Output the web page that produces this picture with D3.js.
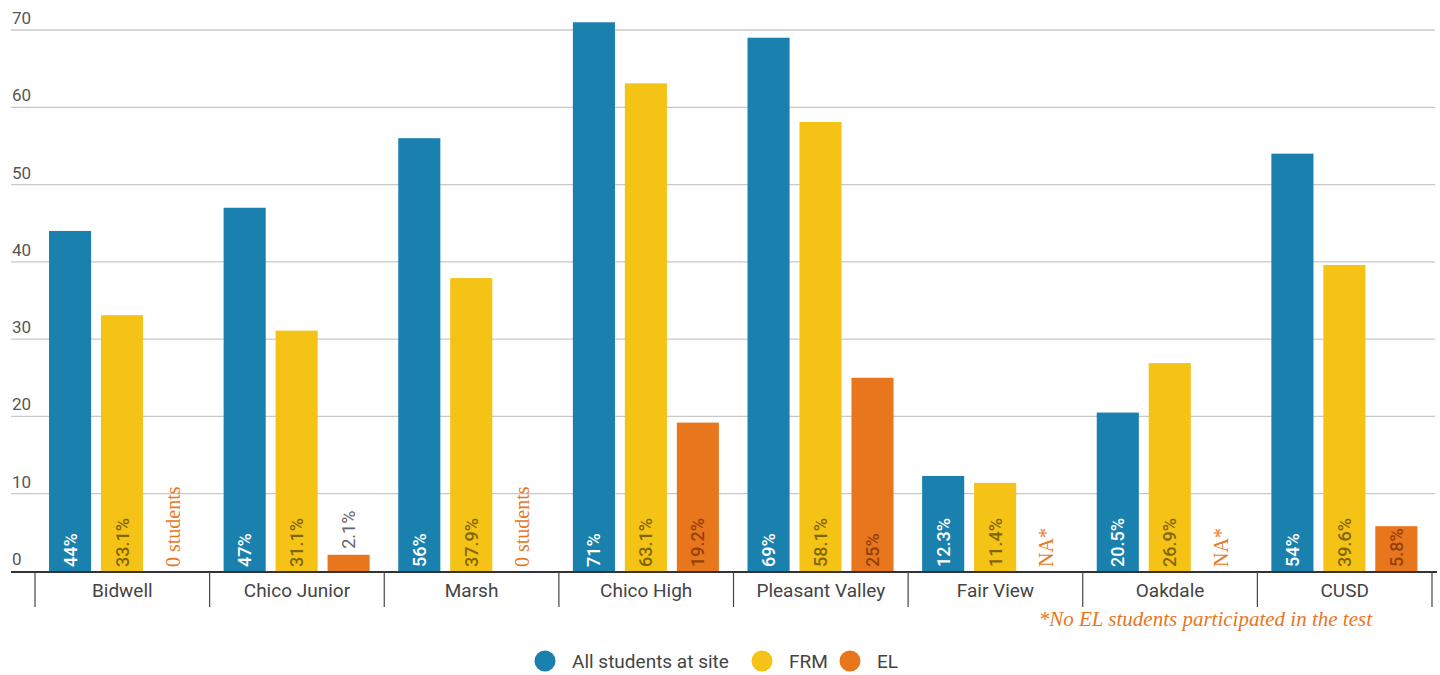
<!DOCTYPE html>
<html><head><meta charset="utf-8">
<script src="https://cdn.jsdelivr.net/npm/d3@7"></script>
<style>
body{margin:0;background:#fff;}
svg{display:block;font-family:Roboto, "Noto Sans", sans-serif;}
</style></head>
<body><svg id="c" width="1440" height="675"></svg>
<script>
const categories = ["Bidwell","Chico Junior","Marsh","Chico High","Pleasant Valley","Fair View","Oakdale","CUSD"];
const seriesNames = ["All students at site","FRM","EL"];
const allStudents = [44,47,56,71,69,12.3,20.5,54];
const frm = [33.1,31.1,37.9,63.1,58.1,11.4,26.9,39.6];
const el = [0,2.1,0,19.2,25,null,null,5.8];
const allLabels = ["44%","47%","56%","71%","69%","12.3%","20.5%","54%"];
const frmLabels = ["33.1%","31.1%","37.9%","63.1%","58.1%","11.4%","26.9%","39.6%"];
const elLabels = ["0 students","2.1%","0 students","19.2%","25%","NA*","NA*","5.8%"];
const yTicks = [0,10,20,30,40,50,60,70];
const footnote = "*No EL students participated in the test";
const colors = ["#1A80AE","#F5C315","#E8761C"];

const svg = d3.select("#c");
const y = d3.scaleLinear().domain([0,70]).range([571,30]);
const x0 = d3.scaleBand().domain(categories).range([35,1432]).paddingInner(0).paddingOuter(0);
const x1 = d3.scaleBand().domain(seriesNames).range([14, x0.bandwidth()-14.6]).paddingInner(0.19).paddingOuter(0);

// gridlines + y labels
const g = svg.append("g");
yTicks.forEach(t=>{
  if(t>0) g.append("line").attr("x1",11).attr("x2",1435).attr("y1",y(t)).attr("y2",y(t)).attr("stroke","#c8c8c8").attr("stroke-width",1.3);
  g.append("text").attr("x",12).attr("y",y(t)-6).attr("font-size",17).attr("fill","#555").text(t);
});

const seriesData = [allStudents, frm, el];
const labelData = [allLabels, frmLabels, elLabels];
const bars = svg.append("g");
categories.forEach((c,i)=>{
  seriesNames.forEach((s,k)=>{
    const v = seriesData[k][i];
    const bx = x0(c)+x1(s);
    const cx = bx + x1.bandwidth()/2;
    if(v!=null && v>0){
      bars.append("rect").attr("x",bx).attr("y",y(v)).attr("width",x1.bandwidth()).attr("height",y(0)-y(v)).attr("fill",colors[k]);
    }
    const lab = labelData[k][i];
    let fill, font="Roboto, sans-serif", size=18, weight=500, by=567, dx=6.5;
    if(k===0){fill="#fff";}
    else if(k===1){fill="rgba(90,70,0,0.75)";}
    else {
      if(v==null || v===0){fill="#E8761C"; font="'Liberation Serif', 'DejaVu Serif', serif"; size=20; weight=400; dx=6;}
      else if(y(0)-y(v) < 40){fill="#666"; by = y(v)-6; weight=400;}
      else {fill="rgba(110,40,0,0.7)";}
    }
    bars.append("text").attr("transform",`translate(${cx+dx},${by}) rotate(-90)`)
      .attr("font-family",font).attr("font-size",size).attr("font-weight",weight)
      .attr("fill",fill).attr("text-anchor","start").text(lab);
  });
});

// x axis
const ax = svg.append("g");
ax.append("line").attr("x1",11).attr("x2",1437).attr("y1",y(0)+1).attr("y2",y(0)+1).attr("stroke","#333").attr("stroke-width",2);
const bounds = categories.map(c=>x0(c)).concat([x0(categories[categories.length-1])+x0.bandwidth()]);
bounds.forEach(b=>{
  ax.append("line").attr("x1",b).attr("x2",b).attr("y1",y(0)+1).attr("y2",607).attr("stroke","#444").attr("stroke-width",1.2);
});
categories.forEach(c=>{
  ax.append("text").attr("x",x0(c)+x0.bandwidth()/2).attr("y",597).attr("text-anchor","middle")
    .attr("font-size",19).attr("fill","#444").text(c);
});

// footnote
svg.append("text").attr("x",1372).attr("y",626).attr("text-anchor","end")
  .attr("font-family","'Liberation Serif','DejaVu Serif',serif").attr("font-style","italic")
  .attr("font-size",21).attr("fill","#E8761C").text(footnote);

// legend
const legX = [545, 762, 850];
const leg = svg.append("g");
seriesNames.forEach((s,k)=>{
  leg.append("circle").attr("cx",legX[k]).attr("cy",661).attr("r",10.5).attr("fill",colors[k]);
  leg.append("text").attr("x",legX[k]+27).attr("y",668).attr("font-size",19).attr("fill","#444").text(s);
});
</script></body></html>
